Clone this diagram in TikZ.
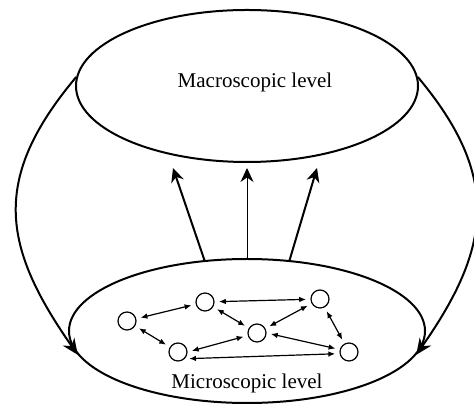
\documentclass[tikz,border=0pt]{standalone}
\usepackage{fontspec}
\setmainfont{Liberation Serif}
\usetikzlibrary{arrows.meta,positioning,shapes.geometric}

\begin{document}
\begin{tikzpicture}[x=0.5pt,y=0.5pt,
  lvl/.style={draw,ellipse,line width=1pt,inner sep=0pt},
  agent/.style={draw,circle,line width=0.6pt,minimum size=9pt,inner sep=0pt},
  link/.style={{Latex[length=3.4pt,width=2.8pt]}-{Latex[length=3.4pt,width=2.8pt]},line width=0.6pt,shorten <=2.2pt,shorten >=2.2pt},
  up/.style={-{Stealth[length=7pt,width=6.5pt]},line width=1pt},
  lab/.style={font=\fontsize{10.5}{12}\selectfont}]
 \useasboundingbox (0,0) rectangle (474,410);
 % levels
 \node[lvl,minimum width=171pt,minimum height=76pt] (macro) at (247,324) {};
 \node[lvl,minimum width=178pt,minimum height=72pt] (micro) at (247,79) {};
 \node[lab] (macrolab) at (255,328) {Macroscopic level};
 \node[lab] (microlab) at (247,27) {Microscopic level};
 % agents
 \node[agent] (c1) at (205,108) {};
 \node[agent] (c2) at (320,111) {};
 \node[agent] (c3) at (127,89) {};
 \node[agent] (c4) at (257,77) {};
 \node[agent] (c5) at (178,58) {};
 \node[agent] (c6) at (349,58) {};
 \draw[link] (c3) -- (c1);
 \draw[link] (c1) -- (c2);
 \draw[link] (c1) -- (c4);
 \draw[link] (c4) -- (c2);
 \draw[link] (c2) -- (c6);
 \draw[link] (c3) -- (c5);
 \draw[link] (c5.east) -- (c4);
 \draw[link] (c4.east) -- (c6.165);
 \draw[link] (c5.-45) -- (c6.190);
 % emergence
 \coordinate (t1) at (173,242);
 \coordinate (t2) at (247,242);
 \coordinate (t3) at (317,242);
 \draw[up] (micro.121) -- (t1);
 \draw[up,line width=0.5pt] (micro.north) -- (t2);
 \draw[up] (micro.59) -- (t3);
 % feedback
 \draw[up,-{Stealth[length=8pt,width=7pt]}] (macro.177) to[out=230,in=125,looseness=1.22] (micro.188);
 \draw[up,-{Stealth[length=8pt,width=7pt]}] (macro.3) to[out=-50,in=55,looseness=1.2] (micro.-8);
\end{tikzpicture}
\end{document}
